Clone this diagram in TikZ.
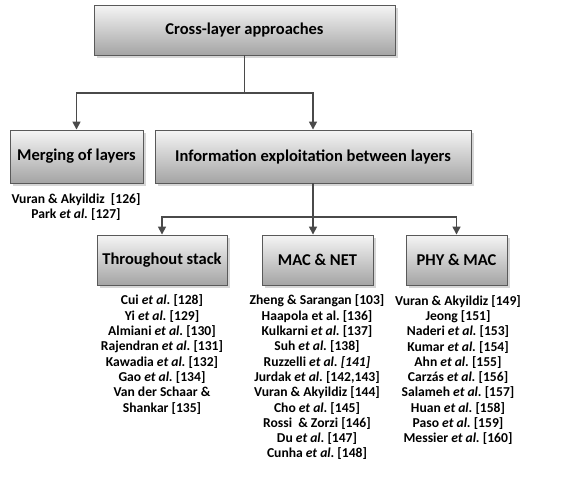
\documentclass[tikz,border=0pt]{standalone}
\usepackage{fontspec}
\setmainfont{Carlito}
\frenchspacing
\usetikzlibrary{arrows.meta}
\definecolor{boxtop}{HTML}{F5F5F5}
\definecolor{boxbot}{HTML}{A4A4A4}
\definecolor{edge}{HTML}{595959}
\definecolor{wire}{HTML}{4A4A4A}
\definecolor{shade}{HTML}{D6D6D6}
\newcommand{\etal}{\textit{et al.}}
\tikzset{
  catbox/.style={rectangle, draw=edge, line width=0.9pt, top color=boxtop, bottom color=boxbot,
    font=\fontsize{16.5}{19}\selectfont\bfseries, inner sep=0pt},
  boxshadow/.style={fill=shade, draw=none},
  conn/.style={draw=wire, line width=1.6pt, -{Triangle[width=8pt,length=8pt]}},
  plain/.style={draw=wire, line width=1.6pt},
  reflist/.style={align=center, font=\fontsize{13.6}{15.3}\selectfont\bfseries, inner sep=0pt}
}
\begin{document}
\begin{tikzpicture}[x=1pt, y=-1pt]
\useasboundingbox (0,0) rectangle (561,490);
\fill[white] (0,0) rectangle (561,490);

% soft shadows behind the boxes
\foreach \xa/\ya/\xb/\yb in {94/5/395/55, 10/130/143/183, 155/130/471/183,
    97/235/227/285, 262/235/373/285, 406/235/507/285}
  \fill[boxshadow] (\xa+2.5,\ya+2.5) rectangle (\xb+2.5,\yb+2.5);

% category boxes
\node[catbox, minimum width=301pt, minimum height=50pt] (root) at (244.5,30) {Cross-layer approaches};
\node[catbox, minimum width=133pt, minimum height=53pt] (merge) at (76.5,156.5) {Merging of layers};
\node[catbox, minimum width=316pt, minimum height=53pt] (info) at (313,156.5) {Information exploitation between layers};
\node[catbox, minimum width=130pt, minimum height=50pt] (stack) at (162,260) {Throughout stack};
\node[catbox, minimum width=111pt, minimum height=50pt] (macnet) at (317.5,260) {MAC \& NET};
\node[catbox, minimum width=101pt, minimum height=50pt] (phymac) at (456.5,260) {PHY \& MAC};

% connectors
\coordinate (j1) at (root.south |- 0,93);
\draw[plain] (root.south) -- (j1);
\draw[conn] (j1) -| (merge.north);
\draw[conn] (j1) -| (info.north);

\coordinate (j2) at (info.south |- 0,217);
\draw[conn] (info.south) -- (info.south |- macnet.north);
\draw[conn] (j2) -| (stack.north);
\draw[conn] (j2) -| (phymac.north);

% reference lists
\node[reflist] (mergeref) at (76,207) {Vuran \& Akyildiz\ \ [126]\\Park \etal{} [127]};
\node[reflist] (stackref) at (162,354.5) {Cui \etal{} [128]\\Yi \etal{} [129]\\Almiani \etal{} [130]\\
  Rajendran \etal{} [131]\\Kawadia \etal{} [132]\\Gao \etal{} [134]\\Van der Schaar \&\\Shankar [135]};
\node[reflist] (macref) at (317,377.5) {Zheng \& Sarangan [103]\\Haapola et al. [136]\\Kulkarni \etal{} [137]\\
  Suh \etal{} [138]\\Ruzzelli \etal{} \textit{[141]}\\Jurdak \etal{} [142,143]\\Vuran \& Akyildiz [144]\\
  Cho \etal{} [145]\\Rossi\ \ \& Zorzi [146]\\Du \etal{} [147]\\Cunha \etal{} [148]};
\node[reflist] (phyref) at (458,370) {Vuran \& Akyildiz [149]\\Jeong [151]\\Naderi \etal{} [153]\\
  Kumar \etal{} [154]\\Ahn \etal{} [155]\\Carzás \etal{} [156]\\Salameh \etal{} [157]\\
  Huan \etal{} [158]\\Paso \etal{} [159]\\Messier \etal{} [160]};
\end{tikzpicture}
\end{document}
